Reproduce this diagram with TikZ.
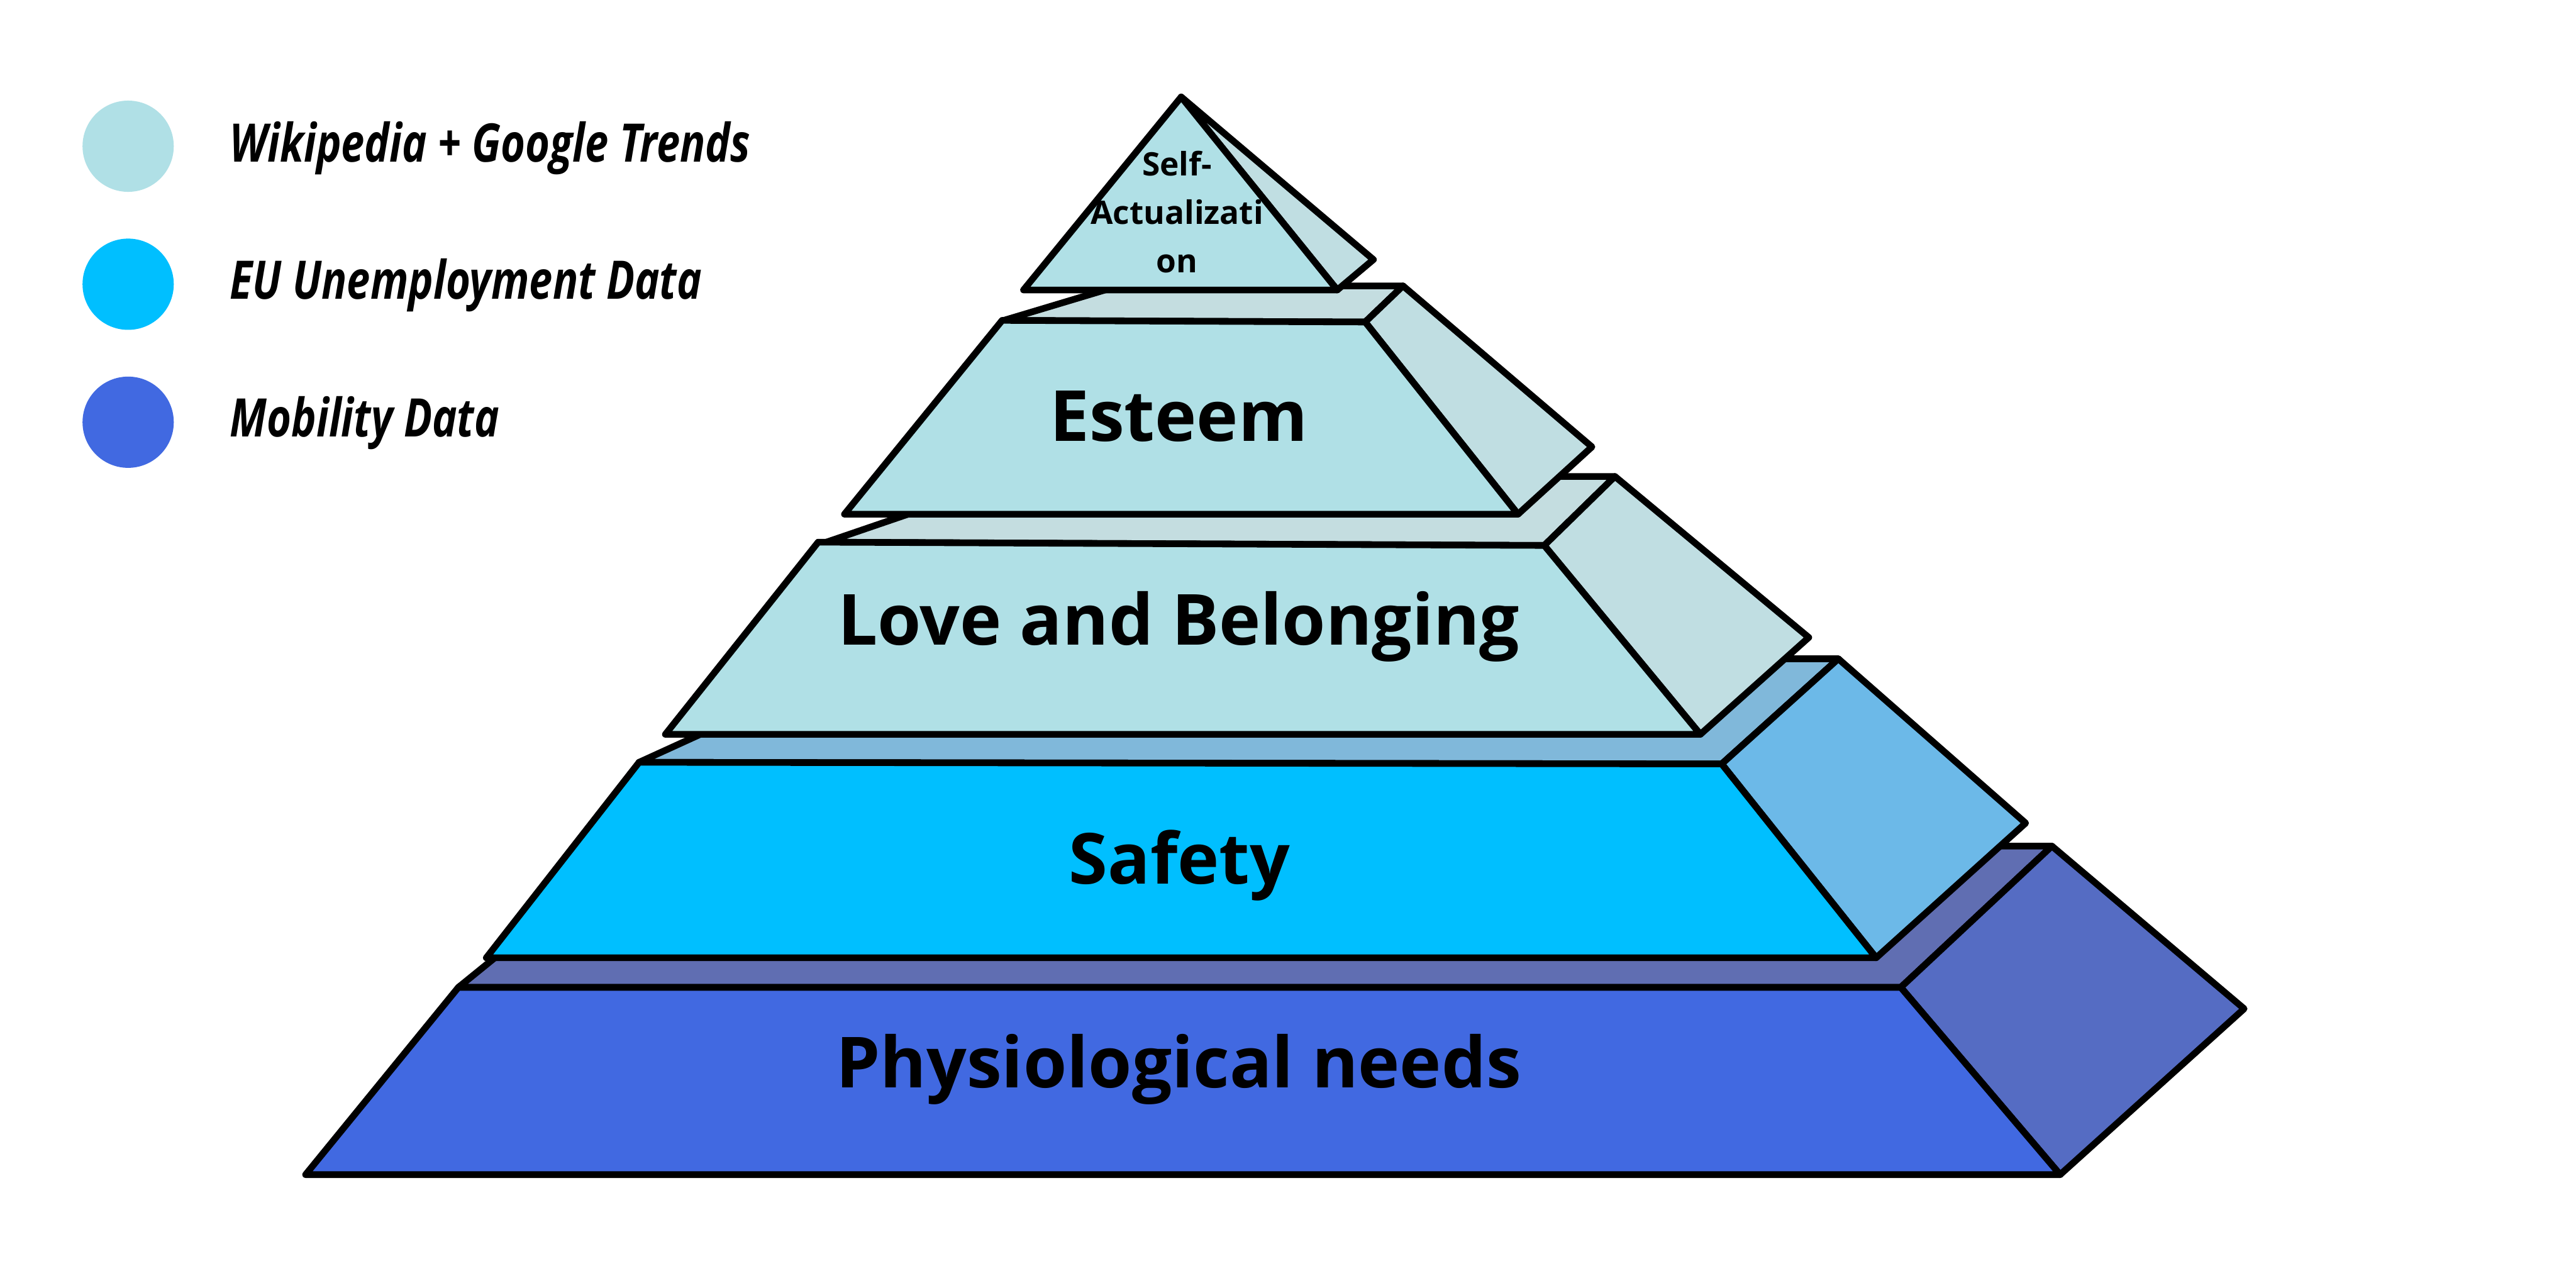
\documentclass[tikz,border=0pt]{standalone}
\usepackage{fontspec}
\newfontfamily\labfontx{Open Sans}
\newcommand\labfont{\labfontx\bfseries}
\newfontfamily\legfont{Open Sans}[FakeStretch=0.79]
\definecolor{lightFront}{HTML}{B0E0E6}
\definecolor{lightSide}{HTML}{C0DEE2}
\definecolor{lightTop}{HTML}{C4DDE0}
\definecolor{safeFront}{HTML}{00BFFF}
\definecolor{safeSide}{HTML}{6CB9E8}
\definecolor{safeTop}{HTML}{80B8DA}
\definecolor{physFront}{HTML}{4169E1}
\definecolor{physSide}{HTML}{556CC3}
\definecolor{physTop}{HTML}{606EB2}
\tikzset{
  face/.style={draw=black, fill=#1},
  lab/.style={font=\labfont\fontsize{12.2}{14}\selectfont, anchor=base, inner sep=0pt},
  salab/.style={font=\labfont\fontsize{5.6}{7}\selectfont, anchor=base, inner sep=0pt},
  leglab/.style={font=\legfont\bfseries\itshape\fontsize{9.2}{11}\selectfont, anchor=base west, inner sep=0pt},
  legdot/.style={circle, fill=#1, minimum size=0.555cm, inner sep=0pt}
}
\begin{document}
\begin{tikzpicture}[x=0.01cm, y=-0.01cm, line width=1.15pt, line join=round, line cap=round]
\useasboundingbox (0,0) rectangle (1568,784);
\fill[white] (0,0) rectangle (1568,784);

% Layer 1: Physiological needs
\draw[face=physTop] (279,601) -- (1157,601) -- (1249,515) -- (385,515) -- cycle;
\draw[face=physSide] (1157,601) -- (1254,715) -- (1366,614) -- (1249,515) -- cycle;
\draw[face=physFront] (186,715) -- (1254,715) -- (1157,601) -- (279,601) -- cycle;

% Layer 2: Safety
\draw[face=safeTop] (389,464) -- (1048,465) -- (1119,401) -- (527,401) -- cycle;
\draw[face=safeSide] (1048,465) -- (1142,583) -- (1233,501) -- (1119,401) -- cycle;
\draw[face=safeFront] (296,583) -- (1142,583) -- (1048,465) -- (389,464) -- cycle;

% Layer 3: Love and Belonging
\draw[face=lightTop] (503,330) -- (940,332) -- (983,290) -- (620,290) -- cycle;
\draw[face=lightSide] (940,332) -- (1035,447) -- (1101,388) -- (983,290) -- cycle;
\draw[face=lightFront] (405,447) -- (1035,447) -- (940,332) -- (498,330) -- cycle;

% Layer 4: Esteem
\draw[face=lightTop] (611,195) -- (831,196) -- (854,174) -- (681,174) -- cycle;
\draw[face=lightSide] (831,196) -- (924,313) -- (969,272) -- (854,174) -- cycle;
\draw[face=lightFront] (514,313) -- (924,313) -- (831,196) -- (610,195) -- cycle;

% Layer 5: Self-Actualization
\draw[face=lightSide] (719,59) -- (814,176.5) -- (836,158) -- cycle;
\draw[face=lightFront] (719,59) -- (814,176.5) -- (623,176.5) -- cycle;

% Labels
\node[salab] (sa1) at (716.5,107) {Self-};
\node[salab] (sa2) at (716.5,136.5) {Actualizati};
\node[salab] (sa3) at (716.5,166) {on};
\node[lab] (esteem) at (717.5,268.6) {Esteem};
\node[lab] (love) at (717.5,392.5) {Love and Belonging};
\node[lab] (safety) at (718,538) {Safety};
\node[lab] (phys) at (717.5,662) {Physiological needs};

% Legend
\node[legdot=lightFront] (d1) at (78,89) {};
\node[legdot=safeFront] (d2) at (78,173) {};
\node[legdot=physFront] (d3) at (78,257) {};
\node[leglab] (l1) at (138,98.5) {Wikipedia + Google Trends};
\node[leglab] (l2) at (138,182) {EU Unemployment Data};
\node[leglab] (l3) at (138,266) {Mobility Data};
\end{tikzpicture}
\end{document}
